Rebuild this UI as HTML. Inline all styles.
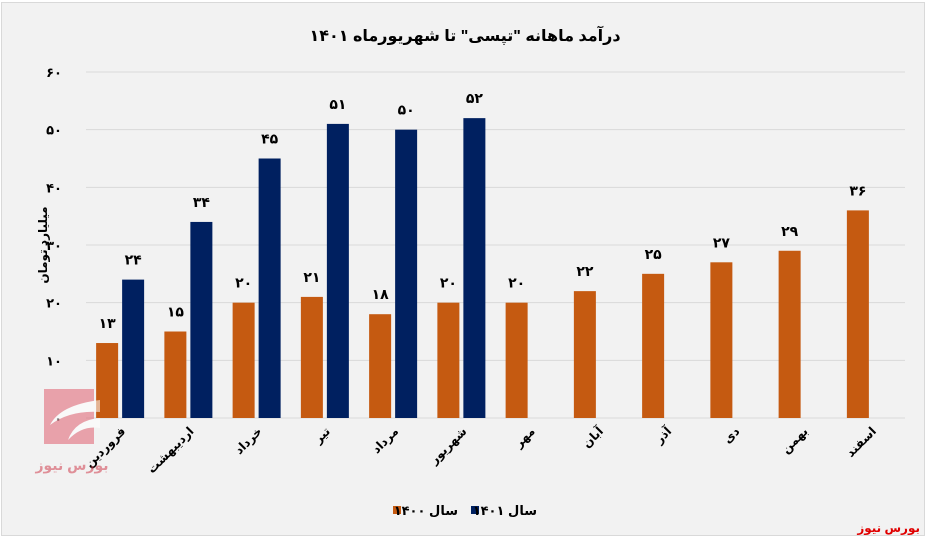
<!DOCTYPE html>
<html><head><meta charset="utf-8"><style>
body{margin:0;background:#fff;}
svg{display:block;font-family:"Liberation Sans","DejaVu Sans",sans-serif;}
</style></head><body>
<svg id="c" width="927" height="542" xmlns="http://www.w3.org/2000/svg">
<rect x="1.5" y="2.5" width="923" height="533" fill="#f2f2f2" stroke="#d9d9d9"/>
<text x="465" y="41" text-anchor="middle" font-size="16" font-weight="bold" fill="#000">درآمد ماهانه "تپسی" تا شهریورماه ۱۴۰۱</text>
<text transform="translate(47,245) rotate(-90)" text-anchor="middle" font-size="12" font-weight="bold">میلیارد تومان</text>
<g id="grid"></g><g id="bars"></g><g id="xl"></g>
<g opacity="0.55">
<rect x="44" y="389" width="50" height="55" fill="#e06070"/>
<path d="M100 400 Q60 405 50 425 Q70 410 100 412Z" fill="#fff"/>
<path d="M100 418 Q75 420 68 440 Q82 425 100 428Z" fill="#fff"/>
<text x="72" y="470" text-anchor="middle" font-size="14" fill="#d04050" font-weight="bold">بورس نیوز</text>
</g>
<g>
<rect x="393" y="506" width="8" height="8" fill="#c55a11"/>
<text x="458" y="515" text-anchor="end" font-size="13" font-weight="bold">سال ۱۴۰۰</text>
<rect x="471" y="506" width="8" height="8" fill="#002060"/>
<text x="537" y="515" text-anchor="end" font-size="13" font-weight="bold">سال ۱۴۰۱</text>
</g>
<text x="920" y="532" text-anchor="end" font-size="12" font-weight="bold" fill="#e00000">بورس نیوز</text>
</svg>
<script>
const categories=["فروردین","اردیبهشت","خرداد","تیر","مرداد","شهریور","مهر","آبان","آذر","دی","بهمن","اسفند"];
const values1400=[13,15,20,21,18,20,20,22,25,27,29,36];
const values1401=[24,34,45,51,50,52,null,null,null,null,null,null];
const yTicks=[0,10,20,30,40,50,60];
const NS="http://www.w3.org/2000/svg";
const fa=n=>String(n).replace(/\d/g,d=>"۰۱۲۳۴۵۶۷۸۹"[d]);
const x0=86,x1=905,yb=418,yt=72,ymax=60;
const bw=(x1-x0)/categories.length;
const y=v=>yb-(v/ymax)*(yb-yt);
const xc=i=>x0+bw*(i+0.5);
function mk(t,a,p){const e=document.createElementNS(NS,t);for(const k in a)e.setAttribute(k,a[k]);p.appendChild(e);return e;}
const g=document.getElementById('grid'),b=document.getElementById('bars'),xl=document.getElementById('xl');
yTicks.forEach(v=>{
 const l=mk('line',{x1:x0,x2:x1,y1:y(v),y2:y(v),stroke:'#d9d9d9','stroke-width':1},g);
 
 
 const t=mk('text',{x:62,y:y(v)+5,'text-anchor':'end','font-size':13,'font-weight':'bold'},g);
 t.textContent=fa(v);
 
 
});
categories.forEach((c,i)=>{
 const cx=xc(i);
 const v=values1400[i];
 const r=mk('rect',{x:cx-24,y:y(v),width:22,height:yb-y(v),fill:'#c55a11'},b);
 
 
 const t=mk('text',{x:cx-13,y:y(v)-15,'text-anchor':'middle','font-size':14,'font-weight':'bold'},b);
 t.textContent=fa(v);
 
 
 const w=values1401[i];
 if(w!=null){
  const r2=mk('rect',{x:cx+2,y:y(w),width:22,height:yb-y(w),fill:'#002060'},b);
  
  
  const t2=mk('text',{x:cx+13,y:y(w)-15,'text-anchor':'middle','font-size':14,'font-weight':'bold'},b);
  t2.textContent=fa(w);
  
  
 }
 const lt=mk('text',{transform:`translate(${cx+6},${yb+14}) rotate(-45)`,'text-anchor':'end','font-size':12,'font-weight':'bold'},xl);
 lt.textContent=c;
 
 
});
mk('line',{x1:x0,x2:x1,y1:yb,y2:yb,stroke:'#d9d9d9'},g);
</script>
</body></html>
